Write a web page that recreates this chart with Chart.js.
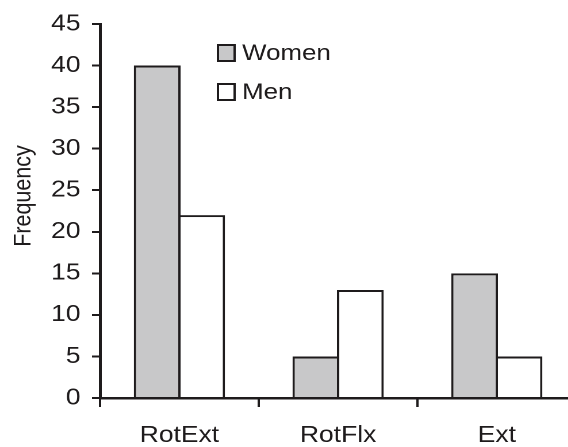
<!DOCTYPE html>
<html>
<head>
<meta charset="utf-8">
<script src="https://cdn.jsdelivr.net/npm/chart.js@4.4.1/dist/chart.umd.min.js"></script>
<style>
  html, body { margin: 0; padding: 0; background: #fff; overflow: hidden; width: 568px; height: 447px; }
  #wrap { width: 502px; height: 447px; transform: scaleX(1.15); transform-origin: 0 0; }
  canvas { display: block; }
</style>
</head>
<body>
<div id="wrap"><canvas id="c" width="502" height="447"></canvas></div>
<script>
// Frequency of each pattern, by sex
const categories = ['RotExt', 'RotFlx', 'Ext'];
const women = [40, 5, 15];
const men = [22, 13, 5];
const yMin = 0, yMax = 45, yStep = 5;
const axisTitle = 'Frequency';

const INK = '#1e1b1c';
const GREY = '#c8c8c9';
const FONT = '"Liberation Sans", Arial, Helvetica, sans-serif';

// Draws the inset legend and the rotated y-axis title
const annotations = {
  id: 'annotations',
  afterDraw(chart) {
    const ctx = chart.ctx;
    ctx.save();
    ctx.fillStyle = INK;
    ctx.font = '21.5px ' + FONT;
    ctx.textAlign = 'center';
    ctx.textBaseline = 'middle';
    ctx.translate(20.5, 196);
    ctx.rotate(-Math.PI / 2);
    ctx.fillText(axisTitle, 0, 0);
    ctx.restore();

    const rows = [53, 92];
    chart.data.datasets.forEach((ds, i) => {
      const cy = rows[i];
      ctx.save();
      ctx.fillStyle = ds.backgroundColor;
      ctx.strokeStyle = INK;
      ctx.lineWidth = 2;
      ctx.fillRect(189.5, cy - 8, 14.5, 16);
      ctx.strokeRect(189.5, cy - 8, 14.5, 16);
      ctx.fillStyle = INK;
      ctx.font = '22.5px ' + FONT;
      ctx.textAlign = 'left';
      ctx.textBaseline = 'middle';
      ctx.fillText(ds.label, 210.5, cy + 1);
      ctx.restore();
    });
  }
};

new Chart(document.getElementById('c'), {
  type: 'bar',
  data: {
    labels: categories,
    datasets: [
      { label: 'Women', data: women, backgroundColor: GREY, borderColor: INK, borderWidth: 2 },
      { label: 'Men', data: men, backgroundColor: '#ffffff', borderColor: INK, borderWidth: 2 }
    ]
  },
  options: {
    responsive: false,
    animation: false,
    devicePixelRatio: 2,
    categoryPercentage: 0.56,
    barPercentage: 1.052,
    layout: { padding: { top: 24, right: 1, left: 0, bottom: 0 } },
    plugins: { legend: { display: false }, tooltip: { enabled: false } },
    scales: {
      x: {
        grid: { drawOnChartArea: false, tickLength: 9, color: INK, lineWidth: 2, offset: true },
        border: { display: true, color: INK, width: 2.5 },
        ticks: { color: INK, font: { family: FONT, size: 23 }, padding: 15, maxRotation: 0 },
        afterFit(s) { s.height = 49; }
      },
      y: {
        min: yMin, max: yMax,
        grid: { drawOnChartArea: false, tickLength: 7, color: INK, lineWidth: 2 },
        border: { display: true, color: INK, width: 2.5 },
        ticks: { stepSize: yStep, color: INK, font: { family: FONT, size: 23 }, padding: 10 },
        afterFit(s) { s.width = 87; }
      }
    }
  },
  plugins: [annotations]
});
</script>
</body>
</html>
